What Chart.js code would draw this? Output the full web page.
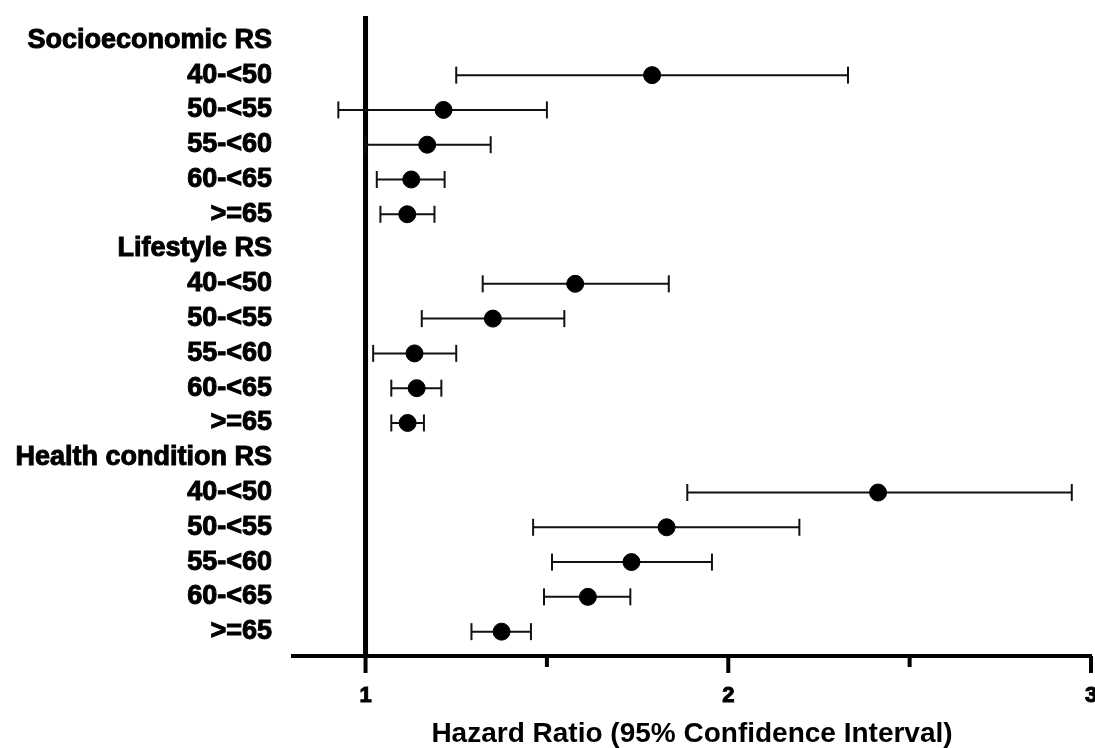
<!DOCTYPE html>
<html lang="en">
<head>
    <meta charset="UTF-8">
    <title>Hazard Ratio forest plot</title>
    <style>
        body {
            margin: 0;
            background: #ffffff;
        }

        .chart-box {
            position: relative;
            width: 1095px;
            height: 748px;
        }
    </style>
    <script src="https://cdn.jsdelivr.net/npm/chart.js"></script>
</head>
<body>

    <div class="chart-box">
        <canvas id="forest"></canvas>
    </div>

    <script>
        // Rows from top to bottom (headers have no values)
        const rowLabels = [
            'Socioeconomic RS', '40-<50', '50-<55', '55-<60', '60-<65', '>=65',
            'Lifestyle RS', '40-<50', '50-<55', '55-<60', '60-<65', '>=65',
            'Health condition RS', '40-<50', '50-<55', '55-<60', '60-<65', '>=65'
        ];
        const hazardRatio = [
            null, 1.79, 1.215, 1.17, 1.126, 1.115,
            null, 1.578, 1.351, 1.135, 1.141, 1.116,
            null, 2.413, 1.83, 1.733, 1.613, 1.375
        ];
        const ciLower = [
            null, 1.25, 0.925, 1.0, 1.031, 1.041,
            null, 1.323, 1.155, 1.021, 1.071, 1.071,
            null, 1.887, 1.462, 1.514, 1.492, 1.292
        ];
        const ciUpper = [
            null, 2.33, 1.50, 1.345, 1.218, 1.19,
            null, 1.836, 1.548, 1.25, 1.209, 1.161,
            null, 2.947, 2.196, 1.955, 1.73, 1.456
        ];
        const xTickValues = [1, 1.5, 2, 2.5, 3];
        const xMin = 0.8;
        const xMax = 3;

        const fontFamily = '"Liberation Sans", Arial, sans-serif';

        // build the datasets from the arrays
        const points = [];
        const whiskers = [];
        const caps = [];
        rowLabels.forEach((lab, i) => {
            if (hazardRatio[i] === null) return;
            points.push({ x: hazardRatio[i], y: i });
            whiskers.push({ x: ciLower[i], y: i });
            whiskers.push({ x: ciUpper[i], y: i });
            whiskers.push({ x: ciUpper[i], y: null }); // break the line
            caps.push({ x: ciLower[i], y: i });
            caps.push({ x: ciUpper[i], y: i });
        });

        // x axis tick marks: long for whole numbers, short in between
        const xTickMarks = {
            id: 'xTickMarks',
            afterDraw(chart) {
                const { ctx, scales: { x } } = chart;
                ctx.save();
                ctx.strokeStyle = '#000';
                ctx.lineWidth = 4;
                x.ticks.forEach(t => {
                    const px = x.getPixelForValue(t.value);
                    const len = Number.isInteger(t.value) ? 17 : 11;
                    ctx.beginPath();
                    ctx.moveTo(px, x.top);
                    ctx.lineTo(px, x.top + len);
                    ctx.stroke();
                });
                ctx.restore();
            }
        };

        const ctx = document.getElementById('forest').getContext('2d');
        const forest = new Chart(ctx, {
            type: 'scatter',
            data: {
                datasets: [
                    {
                        label: 'HR',
                        data: points,
                        backgroundColor: '#000',
                        borderColor: '#000',
                        pointRadius: 8.5,
                        pointHoverRadius: 8.5,
                        order: 0
                    },
                    {
                        type: 'line',
                        label: 'CI',
                        data: whiskers,
                        borderColor: '#111',
                        borderWidth: 2,
                        pointRadius: 0,
                        spanGaps: false,
                        order: 1
                    },
                    {
                        label: 'caps',
                        data: caps,
                        pointStyle: 'line',
                        rotation: 90,
                        pointRadius: 8.5,
                        borderColor: '#111',
                        borderWidth: 2,
                        order: 1
                    },
                    {
                        type: 'line',
                        label: 'ref',
                        data: [{ x: 1, y: -0.7 }, { x: 1, y: 17.7 }],
                        borderColor: '#000',
                        borderWidth: 5,
                        pointRadius: 0,
                        order: 2
                    }
                ]
            },
            options: {
                responsive: true,
                maintainAspectRatio: false,
                animation: false,
                layout: {
                    autoPadding: false,
                    padding: { top: 16, right: 4, left: 0, bottom: 0 }
                },
                plugins: {
                    legend: { display: false },
                    tooltip: { enabled: false }
                },
                scales: {
                    x: {
                        type: 'linear',
                        min: xMin,
                        max: xMax,
                        afterBuildTicks: (axis) => {
                            axis.ticks = xTickValues.map(v => ({ value: v }));
                        },
                        afterFit: (axis) => {
                            axis.height = 92;
                            axis.paddingLeft = 0;
                            axis.paddingRight = 0;
                        },
                        grid: { display: false, drawTicks: false },
                        border: { display: true, color: '#000', width: 4 },
                        ticks: {
                            padding: 27,
                            color: '#000',
                            textStrokeColor: '#000',
                            textStrokeWidth: 1,
                            font: { family: fontFamily, size: 22, weight: 'bold' },
                            callback: (v) => Number.isInteger(v) ? String(v) : ''
                        },
                        title: {
                            display: true,
                            text: 'Hazard Ratio (95% Confidence Interval)',
                            color: '#000',
                            padding: 0,
                            font: { family: fontFamily, size: 28, weight: 'bold', lineHeight: 1 }
                        }
                    },
                    y: {
                        type: 'linear',
                        reverse: true,
                        min: -0.7,
                        max: 17.7,
                        afterBuildTicks: (axis) => {
                            axis.ticks = rowLabels.map((_, i) => ({ value: i }));
                        },
                        afterFit: (axis) => {
                            axis.width = 293;
                            axis.paddingTop = 0;
                            axis.paddingBottom = 0;
                        },
                        grid: { display: false, drawTicks: false },
                        border: { display: false },
                        ticks: {
                            padding: 21,
                            color: '#000',
                            textStrokeColor: '#000',
                            textStrokeWidth: 1,
                            font: { family: fontFamily, size: 27, weight: 'bold' },
                            callback: (v) => rowLabels[v]
                        }
                    }
                }
            },
            plugins: [xTickMarks]
        });
    </script>
</body>
</html>
